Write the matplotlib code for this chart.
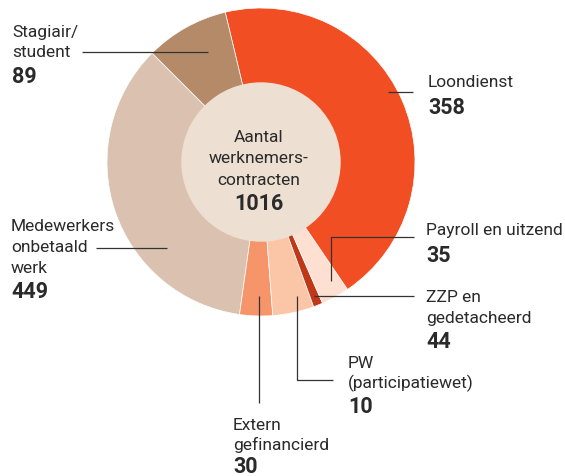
import matplotlib
matplotlib.use("Agg")
import matplotlib.pyplot as plt
from matplotlib.patches import Circle

# Data (order as drawn in the source chart, counter-clockwise)
categories = ["Loondienst", "Payroll en uitzend", "ZZP en gedetacheerd", "PW (participatiewet)",
              "Extern gefinancierd", "Medewerkers onbetaald werk", "Stagiair/student"]
values = [358, 35, 44, 10, 30, 449, 89]
colors = ["#DBC2B0", "#F7956A", "#FBC6A8", "#BF3918", "#FDE0D1", "#F14F23", "#B58A69"]
total_label = "1016"

# Label blocks: text lines, value
label_lines = [["Loondienst"], ["Payroll en uitzend"], ["ZZP en", "gedetacheerd"],
               ["PW", "(participatiewet)"], ["Extern", "gefinancierd"],
               ["Medewerkers", "onbetaald", "werk"], ["Stagiair/", "student"]]

W, H = 565, 477
plt.rcParams["font.family"] = ["Roboto", "DejaVu Sans"]
fig = plt.figure(figsize=(W / 100, H / 100), dpi=100)
ax = fig.add_axes([0, 0, 1, 1])

def py(y):
    # convert pixel y (from top) to data y
    return H - y

# Donut
cx, cy, R = 261, 163, 154
ax.pie(values, colors=colors, startangle=135, counterclock=True,
       center=(cx, py(cy)), radius=R,
       wedgeprops=dict(edgecolor="white", linewidth=0.5))
ax.add_patch(Circle((cx, py(cy)), 79, color="#EEDFD3", zorder=3))

ax.set_xlim(0, W)
ax.set_ylim(0, H)
ax.set_aspect("equal")
ax.axis("off")

txt_color = "#2A2A2A"
line_color = "#333333"
fs_name = 12.5
fs_val = 15.5

# Center text
for s, y in zip(["Aantal", "werknemers-", "contracten"], [142, 163, 185]):
    ax.text(259, py(y), s, ha="center", va="baseline", fontsize=fs_name, color=txt_color, zorder=4)
ax.text(259, py(210), total_label, ha="center", va="baseline", fontsize=fs_val,
        fontweight="bold", color=txt_color, zorder=4)

# Label placement: x, first baseline, line step, value offset
label_pos = [(428, 87, 21, 27), (426, 235, 21, 27), (426, 302, 21, 25),
             (348, 368, 20, 25), (233, 430, 20, 23), (11, 231, 21, 25), (12, 37, 20, 26)]

for lines, v, (x, y0, step, voff) in zip(label_lines, values, label_pos):
    y = y0
    for s in lines:
        ax.text(x, py(y), s, ha="left", va="baseline", fontsize=fs_name, color=txt_color)
        y += step
    ax.text(x, py(y - step + voff), str(v), ha="left", va="baseline",
            fontsize=fs_val, fontweight="bold", color=txt_color)

# Leader lines (pixel coordinates)
leaders = [
    [(388, 93), (413, 93)],
    [(414, 238), (331, 238), (331, 282)],
    [(314, 297), (414, 297)],
    [(297, 297), (297, 381), (333, 381)],
    [(259, 297), (259, 404)],
    [(96, 249), (167, 249)],
    [(82, 53), (208, 53)],
]
for pts in leaders:
    ax.plot([p[0] for p in pts], [py(p[1]) for p in pts], color=line_color,
            linewidth=0.9, zorder=5, solid_capstyle="butt")

fig.savefig("out.png", dpi=100)
